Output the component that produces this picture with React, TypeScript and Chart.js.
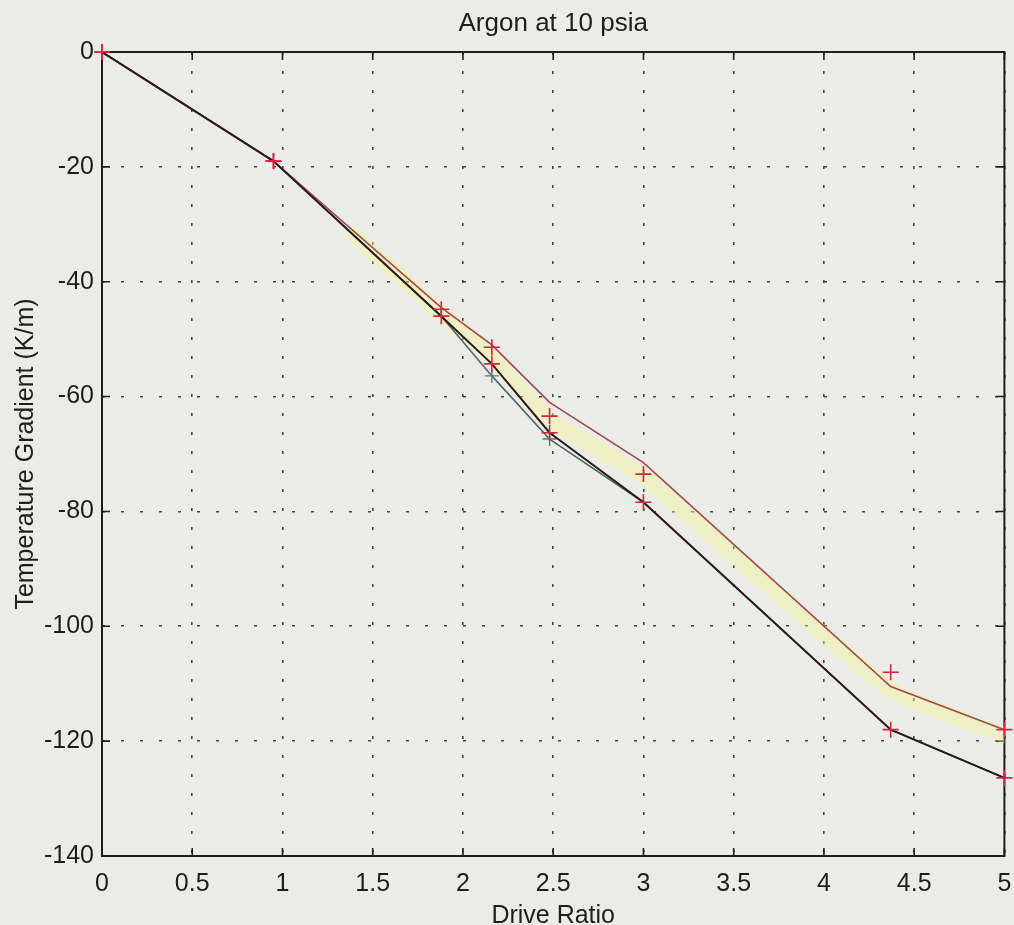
import React, { useEffect, useRef } from "react";
import { Chart, registerables } from "chart.js";

Chart.register(...registerables);

const driveRatio = [0, 0.95, 1.88, 2.16, 2.48, 3.0, 4.37, 5.0];
const upperLine = [0, -19, -44.5, -51, -61, -71.5, -110.5, -118];
const upperMarks = [0, -19, -44.8, -51.4, -63.4, -73.5, -108, -118];
const middleLine = [0, -19, -46, -54.3, -66.3, -78.4, -118, -126.4];
const lowerLine = [0, -19, -46, -56.4, -67.4, -78.4, -118, -126.4];
const lowerMarkRadius = [0, 0, 0, 7, 7, 0, 0, 0];
const highlightX = [1.4, 1.88, 2.16, 2.48, 3.0, 4.37, 5.0];
const highlightY = [-32, -45.5, -53, -64, -74, -111, -119];

const xTicks = [0, 0.5, 1, 1.5, 2, 2.5, 3, 3.5, 4, 4.5, 5];
const yTicks = [0, -20, -40, -60, -80, -100, -120, -140];

const FONT = "'Liberation Sans', Arial, Helvetica, sans-serif";
const INK = "#1e1e1e";
const BG = "#ebebe7";

const pts = (xs: number[], ys: number[]) => xs.map((x, i) => ({ x, y: ys[i] }));

const framePlugin = {
  id: "frame",
  beforeDatasetsDraw(chart: any) {
    const { ctx, chartArea } = chart;
    const { left, right, top, bottom } = chartArea;
    const xs = chart.scales.x;
    const ys = chart.scales.y;
    ctx.save();
    ctx.strokeStyle = INK;
    ctx.lineWidth = 2;
    ctx.setLineDash([]);
    ctx.strokeRect(left, top, right - left, bottom - top);
    ctx.lineWidth = 1.6;
    ctx.beginPath();
    const tl = 8;
    xTicks.forEach((v) => {
      const px = xs.getPixelForValue(v);
      ctx.moveTo(px, bottom);
      ctx.lineTo(px, bottom - tl);
      ctx.moveTo(px, top);
      ctx.lineTo(px, top + tl);
    });
    yTicks.forEach((v) => {
      const py = ys.getPixelForValue(v);
      ctx.moveTo(left, py);
      ctx.lineTo(left + tl, py);
      ctx.moveTo(right, py);
      ctx.lineTo(right - tl, py);
    });
    ctx.stroke();
    ctx.restore();
  },
};

const bgPlugin = {
  id: "bg",
  beforeDraw(chart: any) {
    const { ctx, width, height } = chart;
    ctx.save();
    ctx.fillStyle = BG;
    ctx.fillRect(0, 0, width, height);
    ctx.restore();
  },
};

export default function App() {
  const ref = useRef<HTMLCanvasElement | null>(null);
  useEffect(() => {
    document.body.style.margin = "0";
    document.body.style.background = BG;
    if (!ref.current) return;
    const markerStyle = {
      showLine: false,
      pointStyle: "cross",
      pointRadius: 8,
      pointBorderWidth: 1.6,
      borderColor: "#d3253f",
      backgroundColor: "#d3253f",
      clip: false,
      order: 0,
    };
    const chart = new Chart(ref.current, {
      type: "line",
      data: {
        datasets: [
          {
            label: "markers upper",
            data: pts(driveRatio, upperMarks),
            ...markerStyle,
          } as any,
          {
            label: "markers middle",
            data: pts(driveRatio, middleLine),
            ...markerStyle,
          } as any,
          {
            label: "upper",
            data: pts(driveRatio, upperLine),
            borderColor: "#a24a4a",
            borderWidth: 1.6,
            pointRadius: 0,
            tension: 0,
            order: 2,
          },
          {
            label: "middle",
            data: pts(driveRatio, middleLine),
            borderColor: "#2e1a1c",
            borderWidth: 2,
            pointRadius: 0,
            tension: 0,
            order: 1,
          },
          {
            label: "lower",
            data: pts(driveRatio, lowerLine),
            borderColor: "#4d6b6b",
            borderWidth: 1.6,
            pointStyle: "cross",
            pointRadius: lowerMarkRadius,
            pointBorderWidth: 1.4,
            pointBorderColor: "#5a7a7e",
            tension: 0,
            order: 3,
          },
          {
            label: "highlight",
            data: pts(highlightX, highlightY),
            borderColor: "rgba(246, 246, 150, 0.42)",
            borderWidth: 16,
            pointRadius: 0,
            tension: 0.2,
            borderCapStyle: "round",
            order: 10,
          },
        ],
      },
      options: {
        animation: false,
        responsive: false,
        events: [],
        layout: { padding: { top: 0, right: 8, left: 0, bottom: 0 } },
        plugins: {
          legend: { display: false },
          tooltip: { enabled: false },
          title: {
            display: true,
            text: "Argon at 10 psia",
            fullSize: false,
            color: INK,
            font: { family: FONT, size: 26, weight: "normal", lineHeight: 1.2 },
            padding: { top: 8, bottom: 12.8 },
          },
        },
        scales: {
          x: {
            type: "linear",
            min: 0,
            max: 5,
            afterFit(scale: any) {
              scale.height = 69;
              scale.paddingLeft = 0;
              scale.paddingRight = 0;
            },
            afterBuildTicks(scale: any) {
              scale.ticks = xTicks.map((v) => ({ value: v }));
            },
            ticks: {
              color: INK,
              font: { family: FONT, size: 25 },
              padding: 13,
              maxRotation: 0,
              autoSkip: false,
              callback: (v: any) => String(v),
            },
            grid: {
              color: "#444444",
              lineWidth: 1.6,
              drawTicks: false,
            },
            border: { display: false, dash: [3, 16] },
            title: {
              display: true,
              text: "Drive Ratio",
              color: INK,
              font: { family: FONT, size: 25, lineHeight: 0.6 },
              padding: { top: 0, bottom: 1 },
            },
          },
          y: {
            type: "linear",
            min: -140,
            max: 0,
            afterFit(scale: any) {
              scale.width = 102;
              scale.paddingTop = 0;
              scale.paddingBottom = 0;
            },
            afterBuildTicks(scale: any) {
              scale.ticks = yTicks.map((v) => ({ value: v }));
            },
            ticks: {
              color: INK,
              font: { family: FONT, size: 25 },
              padding: 8,
              autoSkip: false,
              callback: (v: any) => String(v),
            },
            grid: {
              color: "#444444",
              lineWidth: 1.6,
              drawTicks: false,
            },
            border: { display: false, dash: [3, 16] },
            title: {
              display: true,
              text: "Temperature Gradient (K/m)",
              color: INK,
              font: { family: FONT, size: 25, lineHeight: 1.2 },
              padding: { top: 11, bottom: 0 },
            },
          },
        },
      },
      plugins: [bgPlugin, framePlugin],
    });
    return () => chart.destroy();
  }, []);
  return (
    <div style={{ width: 1014, height: 925, background: BG }}>
      <canvas ref={ref} width={1014} height={925} style={{ display: "block" }} />
    </div>
  );
}
